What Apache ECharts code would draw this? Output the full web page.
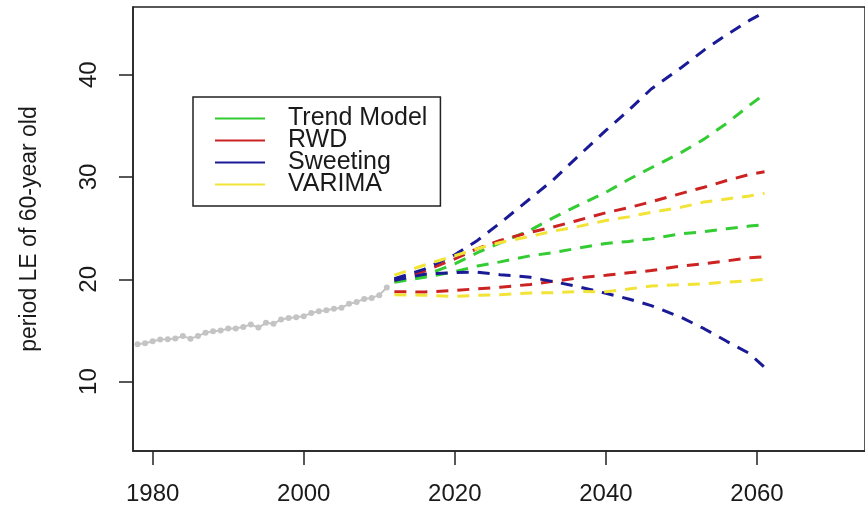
<!DOCTYPE html>
<html>
<head>
<meta charset="utf-8">
<script src="https://cdn.jsdelivr.net/npm/echarts@6/dist/echarts.min.js"></script>
<style>html,body{margin:0;padding:0;background:#fff;}#c{width:865px;height:506px;}</style>
</head>
<body>
<div id="c"></div>
<script>
// ---- data ----
const histYears = [1978,1979,1980,1981,1982,1983,1984,1985,1986,1987,1988,1989,1990,1991,1992,1993,1994,1995,1996,1997,1998,1999,2000,2001,2002,2003,2004,2005,2006,2007,2008,2009,2010,2011];
const histValues = [13.66,13.75,13.95,14.12,14.15,14.22,14.45,14.2,14.45,14.78,14.92,15.0,15.18,15.2,15.35,15.58,15.28,15.75,15.65,16.08,16.22,16.28,16.4,16.7,16.87,16.97,17.13,17.22,17.6,17.78,18.08,18.18,18.45,19.2];

const fcYears = [2012,2016,2020,2023,2026,2030,2033,2036,2040,2043,2046,2050,2053,2056,2059,2061];
const trendHigh   = [19.8,20.4,21.5,22.6,23.55,24.8,26.0,27.1,28.5,29.75,30.9,32.4,33.7,35.25,37.0,38.1];
const trendLow    = [19.7,20.2,20.75,21.3,21.7,22.3,22.6,23.0,23.5,23.7,23.95,24.45,24.65,24.95,25.2,25.35];
const rwdHigh     = [19.9,20.8,22.0,23.0,23.8,24.6,25.1,25.7,26.5,27.0,27.57,28.4,29.0,29.65,30.25,30.5];
const rwdLow      = [18.78,18.76,18.9,19.08,19.22,19.5,19.8,20.1,20.4,20.63,20.85,21.3,21.52,21.8,22.1,22.2];
const sweetHigh   = [20.05,21.0,22.4,23.8,25.5,27.9,29.7,31.8,34.55,36.5,38.6,40.7,42.4,43.9,45.3,46.1];
const sweetLow    = [19.9,20.5,20.65,20.7,20.45,20.2,19.78,19.33,18.63,18.08,17.43,16.27,15.17,13.94,12.75,11.4];
const varimaHigh  = [20.4,21.4,22.3,23.0,23.6,24.2,24.7,25.1,25.75,26.1,26.55,27.05,27.55,27.85,28.15,28.4];
const varimaLow   = [18.5,18.44,18.33,18.44,18.5,18.66,18.69,18.8,18.78,19.05,19.35,19.47,19.56,19.72,19.87,20.0];

const xTicks = [1980,2000,2020,2040,2060];
const yTicks = [10,20,30,40];
const modelNames = ['Trend Model','RWD','Sweeting','VARIMA'];
const yTitle = 'period LE of 60-year old';

// ---- chart ----
const pairs = (xs, ys) => xs.map((x, i) => [x, ys[i]]);
const colors = {'Trend Model':'#33cc33','RWD':'#cc2222','Sweeting':'#1a1a96','VARIMA':'#f2e436'};
const txt = '#1a1a1a';
const FONT = 'Liberation Sans, Arial, sans-serif';

function fc(name, vals) {
  return {
    name: name, type: 'line', data: pairs(fcYears, vals), symbol: 'none',
    lineStyle: {color: colors[name], width: 3, type: [12, 9]},
    itemStyle: {color: colors[name]},
    z: 3, silent: true, animation: false
  };
}

const chart = echarts.init(document.getElementById('c'), null, {renderer: 'canvas'});
chart.setOption({
  backgroundColor: '#fff',
  animation: false,
  textStyle: {fontFamily: FONT},
  grid: {left: 133, top: 7, right: -10, bottom: 53, show: true, borderColor: '#222', borderWidth: 1.5, backgroundColor: 'transparent'},
  legend: {
    data: modelNames, orient: 'vertical', left: 193, top: 97,
    padding: [9, 13, 9, 22], itemGap: -3, itemWidth: 50, itemHeight: 2, icon: 'rect',
    borderColor: '#222', borderWidth: 1.5, backgroundColor: '#fff',
    textStyle: {fontSize: 25, color: txt, lineHeight: 22, padding: [0, 0, 0, 18], fontFamily: FONT},
    selectedMode: false
  },
  xAxis: {
    type: 'value', min: 1977.4, max: 2074.3,
    axisLine: {show: true, onZero: false, lineStyle: {color: '#222', width: 1.5}},
    axisTick: {show: true, length: 14, customValues: xTicks, lineStyle: {color: '#222', width: 1.5}},
    axisLabel: {customValues: xTicks, fontSize: 24, color: txt, margin: 31, fontFamily: FONT, formatter: v => String(v)},
    splitLine: {show: false}
  },
  yAxis: {
    type: 'value', min: 3.22, max: 46.61,
    name: yTitle, nameLocation: 'middle', nameRotate: 90, nameGap: 92,
    nameTextStyle: {fontSize: 23, color: txt, fontFamily: FONT},
    axisLine: {show: true, onZero: false, lineStyle: {color: '#222', width: 1.5}},
    axisTick: {show: true, length: 14, customValues: yTicks, lineStyle: {color: '#222', width: 1.5}},
    axisLabel: {customValues: yTicks, fontSize: 24, color: txt, margin: 32, rotate: 90, fontFamily: FONT, formatter: v => String(v)},
    splitLine: {show: false}
  },
  series: [
    {name: 'history', type: 'line', data: pairs(histYears, histValues), symbol: 'circle', symbolSize: 6,
     lineStyle: {color: '#c4c4c4', width: 2}, itemStyle: {color: '#c4c4c4'}, z: 2, silent: true},
    fc('Trend Model', trendHigh), fc('Trend Model', trendLow),
    fc('RWD', rwdHigh), fc('RWD', rwdLow),
    fc('Sweeting', sweetHigh), fc('Sweeting', sweetLow),
    fc('VARIMA', varimaHigh), fc('VARIMA', varimaLow)
  ]
});
</script>
</body>
</html>
